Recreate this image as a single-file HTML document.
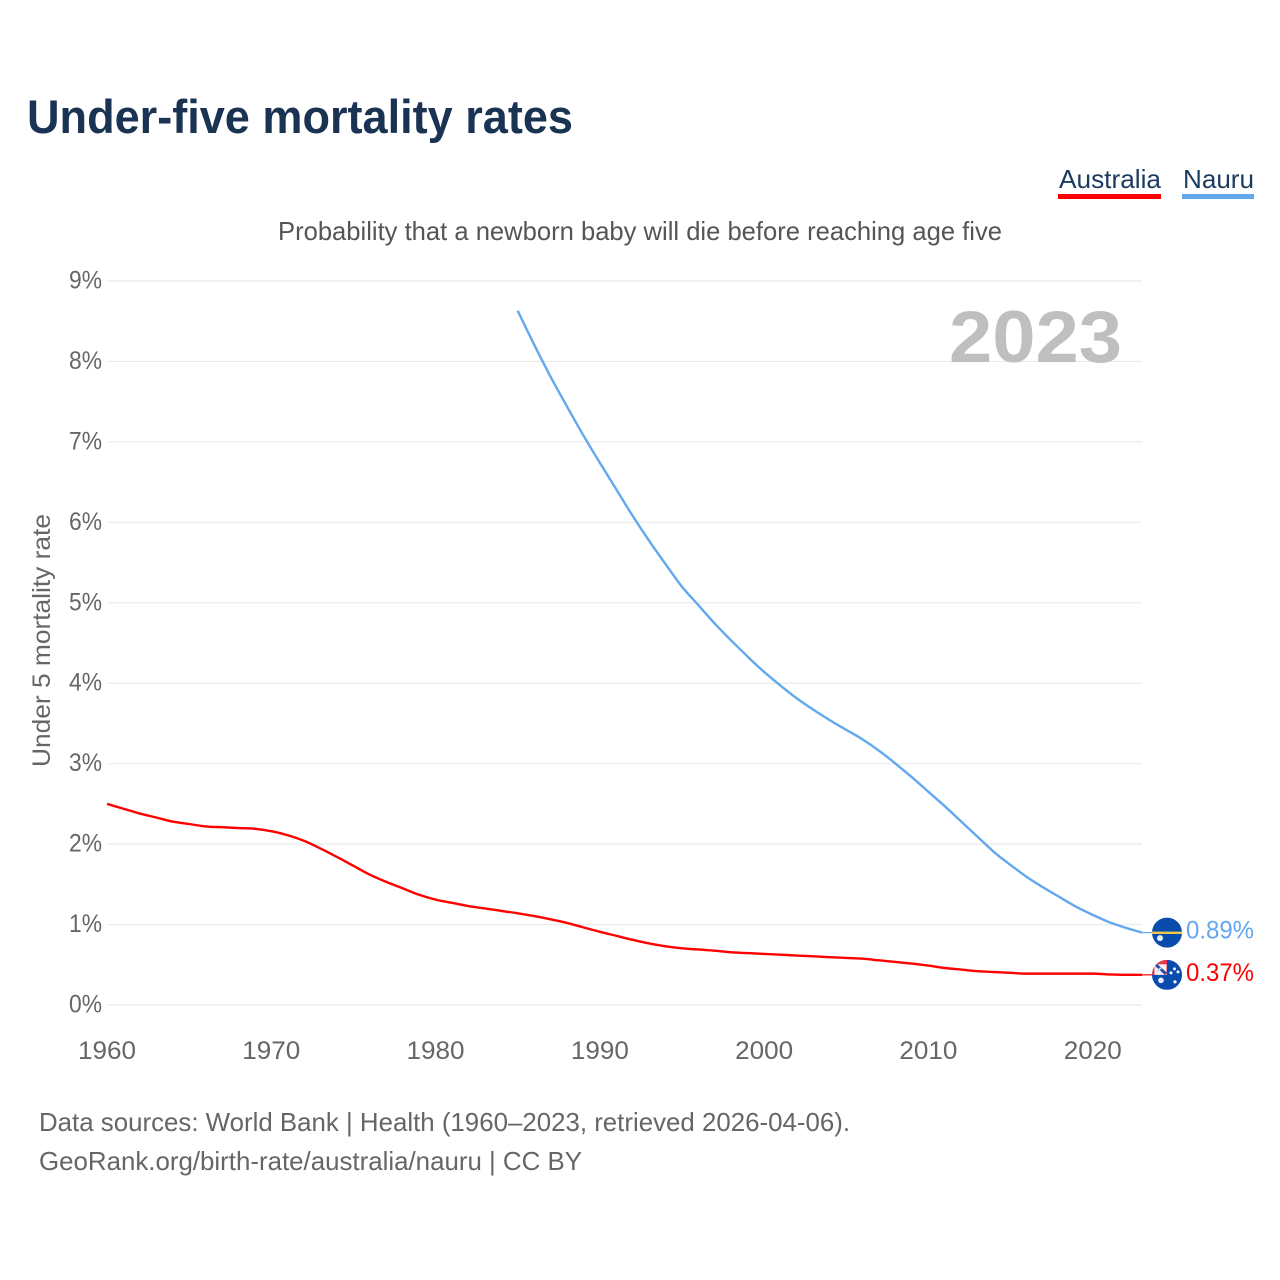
<!DOCTYPE html>
<html lang="en">
<head>
<meta charset="utf-8">
<title>Under-five mortality rates</title>
<style>
html,body{margin:0;padding:0;background:#fff;}
svg{display:block;font-family:"Liberation Sans",sans-serif;}
</style>
</head>
<body>
<svg id="chart" xmlns="http://www.w3.org/2000/svg" width="1280" height="1280" viewBox="0 0 1280 1280">
  <rect width="1280" height="1280" fill="#fff"/>
  <text x="27" y="133" font-size="47" font-weight="700" fill="#1a3352" textLength="546" lengthAdjust="spacingAndGlyphs">Under-five mortality rates</text>
  <g>
    <text x="1059" y="188" font-size="26" fill="#1a3a5f" textLength="102" lengthAdjust="spacingAndGlyphs">Australia</text>
    <rect x="1058" y="194" width="103" height="5" fill="#ff0000"/>
  </g>
  <g>
    <text x="1183" y="188" font-size="26" fill="#1a3a5f" textLength="71" lengthAdjust="spacingAndGlyphs">Nauru</text>
    <rect x="1182" y="194" width="72" height="5" fill="#63a8ef"/>
  </g>
  <text x="278" y="240" font-size="26" fill="#555" textLength="724" lengthAdjust="spacingAndGlyphs">Probability that a newborn baby will die before reaching age five</text>
  <text transform="translate(50,767) rotate(-90)" font-size="25" fill="#666" textLength="253" lengthAdjust="spacingAndGlyphs">Under 5 mortality rate</text>
  <g id="grid"></g>
  <g id="yticks"></g>
  <g id="xticks"></g>
  <text x="949" y="362" font-size="73" font-weight="700" fill="#bfbfbf" textLength="173" lengthAdjust="spacingAndGlyphs">2023</text>
  <g id="series"></g>
  <defs>
    <clipPath id="flag-clip"><circle cx="0" cy="0" r="15"/></clipPath>
  </defs>
  <g id="flag-nauru">
    <g clip-path="url(#flag-clip)">
      <rect x="-15" y="-15" width="30" height="30" fill="#0a4cad"/>
      <rect x="-15" y="-1" width="30" height="2.4" fill="#f2c84b"/>
      <circle cx="-7" cy="5.500" r="3" fill="#e8eef8"/>
    </g>
  </g>
  <g id="flag-australia">
    <g clip-path="url(#flag-clip)">
      <rect x="-15" y="-15" width="30" height="30" fill="#0a4cad"/>
      <rect x="-15" y="-15" width="15" height="15" fill="#e8394a"/>
      <rect x="-12.5" y="-10.500" width="12" height="10.500" fill="#f4f4f8"/>
      <path d="M-11 -10 L-1 -1" stroke="#2b4fa0" stroke-width="3"/>
      <path d="M-10 -3 L-6 -7" stroke="#c9d3ea" stroke-width="2"/>
      <circle cx="-6" cy="5.500" r="2.800" fill="#e8eef8"/>
      <circle cx="4" cy="-2" r="1.500" fill="#fff"/>
      <circle cx="7.500" cy="-6" r="1.400" fill="#fff"/>
      <circle cx="11" cy="-3" r="1.500" fill="#fff"/>
      <circle cx="8" cy="7" r="1.600" fill="#fff"/>
    </g>
  </g>
  <g id="end-labels"></g>
  <text x="39" y="1131" font-size="26" fill="#666" textLength="811" lengthAdjust="spacingAndGlyphs">Data sources: World Bank | Health (1960–2023, retrieved 2026-04-06).</text>
  <text x="39" y="1170" font-size="26" fill="#666" textLength="543" lengthAdjust="spacingAndGlyphs">GeoRank.org/birth-rate/australia/nauru | CC BY</text>
</svg>
<script>
const xTickYears = [1960, 1970, 1980, 1990, 2000, 2010, 2020];
const yTickValues = [0, 1, 2, 3, 4, 5, 6, 7, 8, 9];
const yTickLabels = ['0%', '1%', '2%', '3%', '4%', '5%', '6%', '7%', '8%', '9%'];
const australiaStartYear = 1960;
const australiaValues = [2.50, 2.44, 2.38, 2.33, 2.28, 2.25, 2.22, 2.21, 2.20, 2.19,
  2.16, 2.11, 2.04, 1.945, 1.84, 1.73, 1.62, 1.53, 1.45, 1.37,
  1.31, 1.27, 1.23, 1.20, 1.17, 1.14, 1.105, 1.065, 1.02, 0.965,
  0.91, 0.86, 0.81, 0.765, 0.73, 0.705, 0.69, 0.675, 0.655, 0.645,
  0.635, 0.625, 0.615, 0.605, 0.595, 0.585, 0.575, 0.555, 0.535, 0.515,
  0.49, 0.46, 0.44, 0.42, 0.41, 0.40, 0.39, 0.39, 0.39, 0.39,
  0.39, 0.38, 0.375, 0.375];
const nauruStartYear = 1985;
const nauruValues = [8.63, 8.21, 7.81, 7.44, 7.08, 6.74, 6.41, 6.08, 5.77, 5.48,
  5.20, 4.97, 4.74, 4.53, 4.33, 4.14, 3.97, 3.81, 3.67, 3.54,
  3.42, 3.30, 3.16, 3.00, 2.83, 2.65, 2.47, 2.28, 2.09, 1.90,
  1.74, 1.59, 1.46, 1.34, 1.22, 1.12, 1.03, 0.96, 0.90];
const australiaLabel = '0.37%';
const nauruLabel = '0.89%';

const SVGNS = 'http://www.w3.org/2000/svg';
function xScale(year) { return 107 + (year - 1960) * (1142 - 107) / 63; }
function yScale(value) { return 1005 - value * (1005 - 281) / 9; }
function make(tag, attrs, text) {
  const el = document.createElementNS(SVGNS, tag);
  for (const k in attrs) el.setAttribute(k, attrs[k]);
  if (text !== undefined) el.textContent = text;
  return el;
}

const gridGroup = document.getElementById('grid');
const yTickGroup = document.getElementById('yticks');
yTickValues.forEach(function (v, i) {
  const line = make('line', { x1: 107, x2: 1142, y1: yScale(v), y2: yScale(v), stroke: '#ebebeb', 'stroke-width': 1.2 });
  
  
  gridGroup.appendChild(line);
  const label = make('text', { x: 102, y: yScale(v) + 7.5, 'text-anchor': 'end', 'font-size': 25, fill: '#666', textLength: 33, lengthAdjust: 'spacingAndGlyphs' }, yTickLabels[i]);
  
  
  yTickGroup.appendChild(label);
});

const xTickGroup = document.getElementById('xticks');
xTickYears.forEach(function (yr) {
  const label = make('text', { x: xScale(yr), y: 1059, 'text-anchor': 'middle', 'font-size': 25, fill: '#666', textLength: 58, lengthAdjust: 'spacingAndGlyphs' }, String(yr));
  
  
  xTickGroup.appendChild(label);
});

/* Smooth curve through the yearly values, monotone in x */
function linePath(startYear, values) {
  const xs = values.map(function (v, i) { return xScale(startYear + i); });
  const ys = values.map(function (v) { return yScale(v); });
  const n = values.length;
  const slopes = [];
  for (let i = 0; i < n; i++) {
    const before = i > 0 ? (ys[i] - ys[i - 1]) / (xs[i] - xs[i - 1]) : null;
    const after = i < n - 1 ? (ys[i + 1] - ys[i]) / (xs[i + 1] - xs[i]) : null;
    if (before === null) slopes.push(after);
    else if (after === null) slopes.push(before);
    else if (before * after <= 0) slopes.push(0);
    else slopes.push((before + after) / 2);
  }
  let d = 'M' + xs[0].toFixed(2) + ' ' + ys[0].toFixed(2);
  for (let i = 0; i < n - 1; i++) {
    const h = (xs[i + 1] - xs[i]) / 3;
    d += ' C' + (xs[i] + h).toFixed(2) + ' ' + (ys[i] + slopes[i] * h).toFixed(2) +
         ' ' + (xs[i + 1] - h).toFixed(2) + ' ' + (ys[i + 1] - slopes[i + 1] * h).toFixed(2) +
         ' ' + xs[i + 1].toFixed(2) + ' ' + ys[i + 1].toFixed(2);
  }
  return d;
}

const seriesGroup = document.getElementById('series');
const australiaLine = make('path', { d: linePath(australiaStartYear, australiaValues), fill: 'none', stroke: '#ff0000', 'stroke-width': 2.4, 'stroke-linejoin': 'round' });


seriesGroup.appendChild(australiaLine);
const nauruLine = make('path', { d: linePath(nauruStartYear, nauruValues), fill: 'none', stroke: '#63a8ef', 'stroke-width': 2.4, 'stroke-linejoin': 'round' });


seriesGroup.appendChild(nauruLine);

const lastAustralia = australiaValues[australiaValues.length - 1];
const lastNauru = nauruValues[nauruValues.length - 1];
const australiaLeader = make('line', { x1: 1142, x2: 1154, y1: yScale(lastAustralia), y2: yScale(lastAustralia), stroke: '#ff0000', 'stroke-width': 1.2 });


seriesGroup.appendChild(australiaLeader);
const nauruLeader = make('line', { x1: 1142, x2: 1154, y1: yScale(lastNauru), y2: yScale(lastNauru), stroke: '#63a8ef', 'stroke-width': 1.2 });


seriesGroup.appendChild(nauruLeader);

document.getElementById('flag-nauru').setAttribute('transform', 'translate(1167,' + yScale(lastNauru) + ')');
document.getElementById('flag-australia').setAttribute('transform', 'translate(1167,' + yScale(lastAustralia) + ')');

const endLabels = document.getElementById('end-labels');
const nauruEnd = make('text', { x: 1186, y: yScale(lastNauru) + 6, 'font-size': 25, fill: '#63a8ef', textLength: 68, lengthAdjust: 'spacingAndGlyphs' }, nauruLabel);


endLabels.appendChild(nauruEnd);
const australiaEnd = make('text', { x: 1186, y: yScale(lastAustralia) + 6, 'font-size': 25, fill: '#ff0000', textLength: 68, lengthAdjust: 'spacingAndGlyphs' }, australiaLabel);


endLabels.appendChild(australiaEnd);
</script>
</body>
</html>
